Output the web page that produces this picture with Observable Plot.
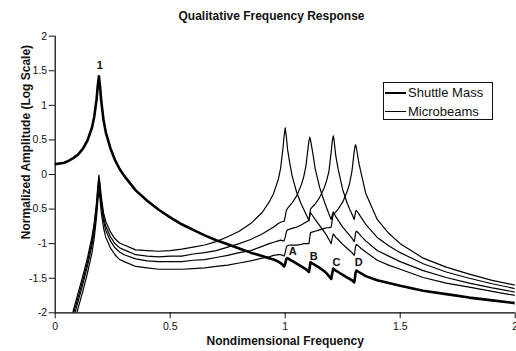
<!DOCTYPE html>
<html><head><meta charset="utf-8">
<script src="https://cdn.jsdelivr.net/npm/d3@7"></script>
<script src="https://cdn.jsdelivr.net/npm/@observablehq/plot@0.6"></script>
<style>
body{margin:0;background:#fff;font-family:"Liberation Sans",Arial,sans-serif;}
#wrap{position:relative;width:516px;height:351px;overflow:hidden;}
#legend{position:absolute;left:383px;top:82px;width:108px;height:36px;border:1.3px solid #111;background:#fff;font-size:13px;color:#111;}
.item{position:absolute;left:1px;height:16px;line-height:16px;display:flex;align-items:center;white-space:nowrap;}
.sw{width:21px;margin-right:2px;background:#000;}
#ylab{position:absolute;left:25.5px;top:141.5px;transform:translate(-50%,-50%) rotate(-90deg);white-space:nowrap;font-weight:bold;font-size:12px;color:#111;}
</style></head>
<body><div id="wrap"></div>
<script>
// ---- data ----
const title = "Qualitative Frequency Response";
const xLabel = "Nondimensional Frequency";
const yLabel = "Normalized Amplitude (Log Scale)";
const seriesNames = ["Shuttle Mass", "Microbeams"];
const xTicks = [0, 0.5, 1, 1.5, 2];
const yTicks = [-2, -1.5, -1, -0.5, 0, 0.5, 1, 1.5, 2];

const freq = [0, 0.02, 0.04, 0.06, 0.08, 0.1, 0.12, 0.14, 0.16, 0.17,
  0.18, 0.185, 0.19, 0.195, 0.2, 0.21, 0.22, 0.24, 0.26, 0.28,
  0.3, 0.35, 0.4, 0.45, 0.5, 0.55, 0.6, 0.65, 0.7, 0.75,
  0.8, 0.85, 0.9, 0.93, 0.95, 0.97, 0.98, 0.99, 0.995, 1.0,
  1.005, 1.01, 1.02, 1.03, 1.05, 1.07, 1.08, 1.09, 1.1, 1.103,
  1.107, 1.11, 1.12, 1.13, 1.15, 1.17, 1.18, 1.19, 1.2, 1.205,
  1.209, 1.212, 1.22, 1.23, 1.25, 1.27, 1.28, 1.29, 1.3, 1.303,
  1.306, 1.31, 1.32, 1.33, 1.35, 1.4, 1.45, 1.5, 1.6, 1.7,
  1.8, 1.9, 2.0];

const shuttle = [0.15, 0.16, 0.17, 0.20, 0.24, 0.29, 0.37, 0.49, 0.68, 0.84,
  1.09, 1.28, 1.42, 1.27, 1.07, 0.79, 0.61, 0.38, 0.21, 0.08,
  -0.02, -0.23, -0.38, -0.51, -0.62, -0.72, -0.80, -0.88, -0.95, -1.01,
  -1.07, -1.13, -1.18, -1.21, -1.23, -1.26, -1.28, -1.31, -1.33, -1.29,
  -1.22, -1.21, -1.23, -1.25, -1.29, -1.33, -1.35, -1.37, -1.40, -1.41,
  -1.33, -1.27, -1.29, -1.31, -1.35, -1.40, -1.43, -1.47, -1.51, -1.42,
  -1.36, -1.37, -1.39, -1.41, -1.45, -1.49, -1.51, -1.53, -1.56, -1.50,
  -1.42, -1.39, -1.41, -1.43, -1.47, -1.53, -1.57, -1.61, -1.68, -1.73,
  -1.78, -1.82, -1.86];

const beam1 = [null, null, null, -2.24, -1.95, -1.71, -1.47, -1.21, -0.90, -0.69,
  -0.39, -0.17, -0.01, -0.13, -0.31, -0.55, -0.68, -0.83, -0.93, -0.99,
  -1.02, -1.09, -1.10, -1.11, -1.10, -1.08, -1.05, -1.02, -0.97, -0.90,
  -0.82, -0.71, -0.55, -0.40, -0.27, -0.07, 0.09, 0.37, 0.55, 0.675,
  0.55, 0.37, 0.16, -0.02, -0.26, -0.43, -0.50, -0.57, -0.64, -0.66,
  -0.59, -0.55, -0.60, -0.65, -0.74, -0.83, -0.88, -0.94, -1.00, -0.91,
  -0.86, -0.87, -0.91, -0.94, -1.01, -1.07, -1.10, -1.13, -1.17, -1.11,
  -1.04, -1.01, -1.04, -1.07, -1.12, -1.24, -1.31, -1.37, -1.49, -1.57,
  -1.63, -1.69, -1.75];

const beam2 = [null, null, null, -2.30, -2.01, -1.77, -1.53, -1.27, -0.96, -0.75,
  -0.45, -0.23, -0.07, -0.20, -0.37, -0.61, -0.75, -0.90, -1.00, -1.06,
  -1.09, -1.16, -1.18, -1.19, -1.18, -1.18, -1.15, -1.13, -1.10, -1.05,
  -1.00, -0.94, -0.86, -0.80, -0.76, -0.71, -0.69, -0.68, -0.68, -0.61,
  -0.52, -0.49, -0.45, -0.41, -0.31, -0.15, -0.04, 0.12, 0.40, 0.48,
  0.54, 0.50, 0.31, 0.09, -0.19, -0.39, -0.48, -0.57, -0.65, -0.58,
  -0.54, -0.56, -0.61, -0.66, -0.76, -0.84, -0.88, -0.92, -0.97, -0.92,
  -0.84, -0.82, -0.85, -0.89, -0.96, -1.10, -1.18, -1.26, -1.39, -1.49,
  -1.57, -1.64, -1.70];

const beam3 = [null, null, null, -2.36, -2.07, -1.83, -1.59, -1.33, -1.02, -0.81,
  -0.51, -0.30, -0.13, -0.26, -0.44, -0.67, -0.81, -0.96, -1.06, -1.12,
  -1.16, -1.22, -1.25, -1.26, -1.26, -1.26, -1.24, -1.23, -1.20, -1.17,
  -1.13, -1.10, -1.04, -1.00, -0.98, -0.96, -0.95, -0.96, -0.96, -0.91,
  -0.83, -0.80, -0.79, -0.78, -0.76, -0.73, -0.71, -0.69, -0.67, -0.67,
  -0.57, -0.50, -0.46, -0.43, -0.33, -0.19, -0.09, 0.04, 0.33, 0.49,
  0.56, 0.51, 0.27, 0.08, -0.22, -0.42, -0.50, -0.57, -0.65, -0.60,
  -0.53, -0.52, -0.57, -0.62, -0.72, -0.91, -1.03, -1.13, -1.29, -1.41,
  -1.50, -1.58, -1.65];

const beam4 = [null, null, null, -2.46, -2.17, -1.93, -1.69, -1.43, -1.13, -0.91,
  -0.61, -0.40, -0.23, -0.36, -0.54, -0.77, -0.91, -1.06, -1.16, -1.23,
  -1.26, -1.33, -1.35, -1.37, -1.37, -1.37, -1.36, -1.35, -1.33, -1.31,
  -1.28, -1.25, -1.21, -1.19, -1.17, -1.16, -1.16, -1.17, -1.18, -1.13,
  -1.05, -1.03, -1.02, -1.02, -1.02, -1.01, -1.00, -1.00, -1.00, -1.00,
  -0.91, -0.84, -0.83, -0.82, -0.80, -0.78, -0.77, -0.77, -0.76, -0.65,
  -0.57, -0.57, -0.54, -0.50, -0.40, -0.24, -0.13, 0.04, 0.33, 0.40,
  0.43, 0.38, 0.17, 0.02, -0.27, -0.65, -0.85, -1.00, -1.21, -1.34,
  -1.44, -1.53, -1.60];

const peakNames = ["1", "A", "B", "C", "D"];
const peakX = [0.194, 1.033, 1.124, 1.223, 1.32];
const peakY = [1.575, -1.108, -1.185, -1.275, -1.275];

// ---- build tables ----
const shuttleRows = freq.map((f, i) => ({f, v: shuttle[i]}));
const beamRows = [];
[beam1, beam2, beam3, beam4].forEach((b, k) => {
  freq.forEach((f, i) => { if (b[i] !== null) beamRows.push({f, v: b[i], beam: k}); });
});
const peakRows = peakNames.map((t, i) => ({t, x: peakX[i], y: peakY[i]}));

const font = '"Liberation Sans", Arial, sans-serif';
const chart = Plot.plot({
  width: 516, height: 351,
  marginTop: 35.7, marginBottom: 38.7, marginLeft: 54.7, marginRight: 1.3,
  style: {fontFamily: font, fontSize: "10.5px", color: "#111", background: "#fff", overflow: "visible"},
  x: {domain: [0, 2], ticks: xTicks, tickSize: 6, tickPadding: 4, tickFormat: d => String(d), label: null},
  y: {domain: [-2, 2], ticks: yTicks, tickSize: 6, tickPadding: 2, tickFormat: d => String(d), label: null},
  marks: [
    Plot.ruleX([0], {stroke: "#000", strokeWidth: 1.2}),
    Plot.ruleY([-2], {stroke: "#000", strokeWidth: 1.2}),
    Plot.line(beamRows, {x: "f", y: "v", z: "beam", stroke: "#000", strokeWidth: 1.2, clip: true}),
    Plot.line(shuttleRows, {x: "f", y: "v", stroke: "#000", strokeWidth: 2.6, clip: true}),
    Plot.text(peakRows, {x: "x", y: "y", text: "t", fontWeight: "bold", fontSize: 11, fill: "#111"}),
    Plot.text([title], {text: d => d, frameAnchor: "top", dx: -13.7, dy: -25, fontWeight: "bold", fontSize: 12, fill: "#111"}),
    Plot.text([xLabel], {text: d => d, frameAnchor: "bottom", dy: 32.5, fontWeight: "bold", fontSize: 12, fill: "#111"})
  ]
});
const wrap = document.getElementById("wrap");
wrap.appendChild(chart);

// y-axis title
const ylab = document.createElement("div");
ylab.id = "ylab";
ylab.textContent = yLabel;
wrap.appendChild(ylab);

// legend
const legend = document.createElement("div");
legend.id = "legend";
seriesNames.forEach((name, i) => {
  const item = document.createElement("div");
  item.className = "item";
  item.style.top = (i === 0 ? 2 : 20.5) + "px";
  const sw = document.createElement("span");
  sw.className = "sw";
  sw.style.height = (i === 0 ? 2.6 : 1.2) + "px";
  const label = document.createElement("span");
  label.textContent = name;
  item.appendChild(sw); item.appendChild(label);
  legend.appendChild(item);
});
wrap.appendChild(legend);
</script></body></html>
